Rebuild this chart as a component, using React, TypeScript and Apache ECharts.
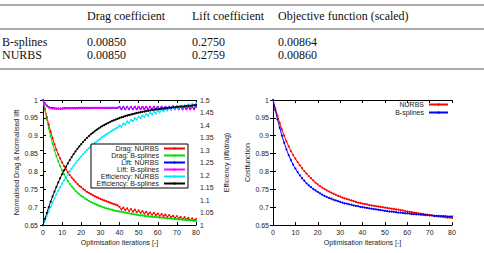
import React, { useEffect, useRef } from "react";
import * as echarts from "echarts";

// ---------- Table data ----------
const TABLE_HEADERS = ["", "Drag coefficient", "Lift coefficient", "Objective function (scaled)"];
const TABLE_ROWS = [
  ["B-splines", "0.00850", "0.2750", "0.00864"],
  ["NURBS", "0.00850", "0.2759", "0.00860"],
];

// ---------- Left chart data (iterations 0..80) ----------
const DRAG_NURBS = [
  1.000, 0.975, 0.952, 0.931, 0.911, 0.893, 0.876, 0.861, 0.848, 0.836,
  0.825, 0.815, 0.806, 0.798, 0.790, 0.783, 0.777, 0.771, 0.765, 0.760,
  0.756, 0.751, 0.747, 0.743, 0.740, 0.737, 0.734, 0.731, 0.728, 0.726,
  0.723, 0.721, 0.719, 0.717, 0.715, 0.713, 0.711, 0.709, 0.707, 0.705,
  0.701, 0.694, 0.699, 0.692, 0.697, 0.690, 0.695, 0.688, 0.693, 0.686,
  0.691, 0.684, 0.689, 0.682, 0.687, 0.681, 0.685, 0.679, 0.684, 0.678,
  0.682, 0.676, 0.681, 0.675, 0.679, 0.673, 0.678, 0.672, 0.676, 0.670,
  0.675, 0.669, 0.673, 0.667, 0.672, 0.666, 0.670, 0.664, 0.669, 0.663,
  0.667,
];
const DRAG_BSPLINES = [
  1.000, 0.972, 0.946, 0.921, 0.899, 0.878, 0.860, 0.843, 0.828, 0.815,
  0.803, 0.792, 0.782, 0.773, 0.765, 0.758, 0.752, 0.746, 0.741, 0.736,
  0.732, 0.728, 0.724, 0.721, 0.718, 0.715, 0.712, 0.710, 0.707, 0.705,
  0.703, 0.701, 0.699, 0.697, 0.696, 0.694, 0.693, 0.691, 0.690, 0.689,
  0.688, 0.687, 0.686, 0.685, 0.684, 0.683, 0.682, 0.681, 0.680, 0.679,
  0.678, 0.677, 0.677, 0.676, 0.675, 0.675, 0.674, 0.673, 0.673, 0.672,
  0.672, 0.671, 0.671, 0.670, 0.670, 0.669, 0.669, 0.668, 0.668, 0.667,
  0.667, 0.666, 0.666, 0.665, 0.665, 0.664, 0.664, 0.663, 0.663, 0.662,
  0.662,
];
const LIFT_NURBS = [
  1.000, 0.990, 0.984, 0.980, 0.978, 0.977, 0.977, 0.976, 0.976, 0.976,
  0.976, 0.977, 0.977, 0.977, 0.977, 0.977, 0.977, 0.977, 0.977, 0.978,
  0.978, 0.978, 0.978, 0.978, 0.978, 0.978, 0.978, 0.978, 0.978, 0.978,
  0.978, 0.978, 0.978, 0.978, 0.978, 0.978, 0.978, 0.978, 0.978, 0.978,
  0.981, 0.975, 0.981, 0.975, 0.981, 0.975, 0.981, 0.975, 0.981, 0.975,
  0.981, 0.975, 0.981, 0.975, 0.981, 0.975, 0.981, 0.975, 0.981, 0.975,
  0.981, 0.975, 0.981, 0.975, 0.981, 0.975, 0.981, 0.975, 0.982, 0.975,
  0.982, 0.976, 0.982, 0.976, 0.982, 0.976, 0.982, 0.976, 0.982, 0.976,
  0.982,
];
const LIFT_BSPLINES = [
  1.000, 0.989, 0.983, 0.979, 0.977, 0.976, 0.976, 0.976, 0.976, 0.976,
  0.976, 0.976, 0.977, 0.977, 0.977, 0.977, 0.977, 0.977, 0.977, 0.977,
  0.977, 0.977, 0.977, 0.977, 0.977, 0.978, 0.978, 0.978, 0.978, 0.978,
  0.978, 0.978, 0.978, 0.978, 0.978, 0.978, 0.978, 0.978, 0.978, 0.978,
  0.980, 0.974, 0.980, 0.974, 0.980, 0.974, 0.980, 0.974, 0.980, 0.974,
  0.980, 0.974, 0.980, 0.974, 0.980, 0.974, 0.980, 0.974, 0.980, 0.974,
  0.980, 0.974, 0.980, 0.974, 0.980, 0.974, 0.980, 0.974, 0.980, 0.974,
  0.980, 0.974, 0.980, 0.974, 0.980, 0.974, 0.980, 0.974, 0.980, 0.974,
  0.980,
];
const EFF_NURBS = [
  1.000, 1.019, 1.037, 1.055, 1.073, 1.090, 1.107, 1.123, 1.138, 1.152,
  1.166, 1.179, 1.192, 1.204, 1.215, 1.226, 1.237, 1.247, 1.257, 1.266,
  1.275, 1.284, 1.292, 1.300, 1.307, 1.314, 1.321, 1.328, 1.334, 1.340,
  1.346, 1.352, 1.357, 1.362, 1.367, 1.372, 1.377, 1.381, 1.386, 1.390,
  1.398, 1.394, 1.406, 1.402, 1.414, 1.409, 1.420, 1.416, 1.427, 1.422,
  1.433, 1.428, 1.438, 1.433, 1.444, 1.438, 1.448, 1.443, 1.453, 1.447,
  1.457, 1.451, 1.461, 1.455, 1.464, 1.458, 1.468, 1.461, 1.471, 1.464,
  1.474, 1.467, 1.477, 1.470, 1.479, 1.473, 1.482, 1.475, 1.484, 1.478,
  1.487,
];
const EFF_BSPLINES = [
  1.000, 1.025, 1.049, 1.072, 1.094, 1.115, 1.134, 1.153, 1.171, 1.188,
  1.204, 1.219, 1.233, 1.247, 1.260, 1.272, 1.284, 1.295, 1.305, 1.315,
  1.324, 1.333, 1.341, 1.349, 1.356, 1.363, 1.369, 1.375, 1.381, 1.386,
  1.391, 1.396, 1.400, 1.404, 1.408, 1.412, 1.416, 1.419, 1.422, 1.425,
  1.428, 1.431, 1.433, 1.436, 1.438, 1.440, 1.442, 1.444, 1.446, 1.448,
  1.450, 1.451, 1.453, 1.454, 1.456, 1.457, 1.458, 1.460, 1.461, 1.462,
  1.463, 1.464, 1.465, 1.466, 1.467, 1.468, 1.469, 1.470, 1.471, 1.471,
  1.472, 1.473, 1.474, 1.474, 1.475, 1.476, 1.477, 1.477, 1.478, 1.479,
  1.480,
];

// ---------- Right chart data ----------
const COST_NURBS = [
  1.000, 0.977, 0.956, 0.936, 0.917, 0.900, 0.884, 0.870, 0.857, 0.846,
  0.836, 0.826, 0.817, 0.809, 0.801, 0.794, 0.787, 0.781, 0.775, 0.769,
  0.764, 0.759, 0.755, 0.751, 0.747, 0.744, 0.741, 0.738, 0.735, 0.732,
  0.730, 0.727, 0.725, 0.723, 0.721, 0.719, 0.717, 0.715, 0.713, 0.712,
  0.710, 0.709, 0.708, 0.706, 0.705, 0.704, 0.703, 0.702, 0.701, 0.700,
  0.699, 0.698, 0.697, 0.696, 0.695, 0.694, 0.693, 0.692, 0.691, 0.689,
  0.688, 0.687, 0.686, 0.685, 0.684, 0.683, 0.682, 0.681, 0.680, 0.679,
  0.678, 0.677, 0.676, 0.675, 0.674, 0.674, 0.673, 0.672, 0.671, 0.671,
  0.670,
];
const COST_BSPLINES = [
  1.000, 0.972, 0.946, 0.922, 0.900, 0.880, 0.862, 0.846, 0.832, 0.819,
  0.808, 0.798, 0.789, 0.781, 0.774, 0.767, 0.761, 0.756, 0.751, 0.747,
  0.743, 0.739, 0.735, 0.732, 0.729, 0.726, 0.724, 0.721, 0.719, 0.717,
  0.715, 0.713, 0.711, 0.710, 0.708, 0.707, 0.705, 0.704, 0.703, 0.701,
  0.700, 0.699, 0.698, 0.697, 0.696, 0.695, 0.694, 0.693, 0.692, 0.691,
  0.690, 0.689, 0.688, 0.688, 0.687, 0.686, 0.685, 0.685, 0.684, 0.683,
  0.683, 0.682, 0.681, 0.681, 0.680, 0.680, 0.679, 0.679, 0.678, 0.678,
  0.677, 0.677, 0.676, 0.676, 0.676, 0.675, 0.675, 0.675, 0.674, 0.674,
  0.674,
];

const LEFT_Y_TICKS = { min: 0.65, max: 1, interval: 0.05 };
const RIGHT_Y_TICKS = { min: 1, max: 1.5, interval: 0.05 };
const X_TICKS = { min: 0, max: 80, interval: 10 };

const SANS = "Liberation Sans";
const SERIF = "Liberation Serif";
const TXT = "#222";

const toPairs = (arr: number[]) => arr.map((v, i) => [i, v]);

export default function App() {
  const ref = useRef<HTMLDivElement>(null);

  useEffect(() => {
    if (!ref.current) return;
    const chart = echarts.init(ref.current, undefined, { renderer: "svg" });

    const axisLine = { show: true, lineStyle: { color: "#000", width: 1 } };
    const tick = { show: true, inside: true, length: 3, lineStyle: { color: "#000" } };
    const label = { fontSize: 7, color: TXT, fontFamily: SANS };
    const nameStyle = { fontSize: 7, color: TXT, fontFamily: SANS };

    const xMain = (grid: number) => ({
      type: "value",
      gridIndex: grid,
      position: "bottom",
      ...X_TICKS,
      name: "Optimisation iterations [-]",
      nameLocation: "middle",
      nameGap: 14,
      nameTextStyle: nameStyle,
      axisLine,
      axisTick: tick,
      axisLabel: { ...label, margin: 4 },
      splitLine: { show: false },
    });
    const xMirror = (grid: number) => ({
      type: "value",
      gridIndex: grid,
      position: "top",
      ...X_TICKS,
      axisLine,
      axisTick: tick,
      axisLabel: { show: false },
      splitLine: { show: false },
    });

    // Table graphics
    const colX = [2, 87, 192, 278];
    const graphic: any[] = [];
    const rule = (y: number) => ({
      type: "line",
      shape: { x1: 0, y1: y, x2: 484, y2: y },
      style: { stroke: "#555", lineWidth: 1 },
    });
    graphic.push(rule(5), rule(29), rule(69));
    const cellStyle = (text: string) => ({
      text,
      fill: "#111",
      fontFamily: SERIF,
      fontSize: 12,
      verticalAlign: "middle",
    });
    TABLE_HEADERS.forEach((h, i) => {
      if (!h) return;
      graphic.push({ type: "text", x: colX[i], y: 16, style: cellStyle(h) });
    });
    TABLE_ROWS.forEach((row, r) => {
      row.forEach((cell, i) => {
        graphic.push({ type: "text", x: colX[i], y: 42 + r * 13, style: cellStyle(cell) });
      });
    });

    const lineSeries = (
      name: string,
      data: number[],
      color: string,
      xi: number,
      yi: number,
      symbol = "circle"
    ) => ({
      type: "line",
      name,
      data: toPairs(data),
      xAxisIndex: xi,
      yAxisIndex: yi,
      symbol,
      symbolSize: 2,
      showSymbol: true,
      lineStyle: { color, width: 1 },
      itemStyle: { color },
      emphasis: { disabled: true },
    });

    const legendText = (width: number) => ({
      fontSize: 7,
      lineHeight: 7,
      color: TXT,
      fontFamily: SANS,
      width,
      align: "right",
      padding: 0,
    });

    const option: any = {
      animation: false,
      textStyle: { fontFamily: SANS },
      graphic,
      grid: [
        { left: 43, top: 100, width: 153, height: 128, show: false },
        { left: 273, top: 100, width: 179, height: 128, show: false },
      ],
      xAxis: [xMain(0), xMirror(0), xMain(1), xMirror(1)],
      yAxis: [
        {
          type: "value",
          gridIndex: 0,
          position: "left",
          ...LEFT_Y_TICKS,
          name: "Normalised Drag & Normalised lift",
          nameLocation: "middle",
          nameGap: 22,
          nameTextStyle: nameStyle,
          axisLine,
          axisTick: tick,
          axisLabel: { ...label, margin: 5 },
          splitLine: { show: false },
        },
        {
          type: "value",
          gridIndex: 0,
          position: "right",
          ...RIGHT_Y_TICKS,
          name: "Efficiency (lift/drag)",
          nameLocation: "middle",
          nameGap: 27,
          nameTextStyle: nameStyle,
          axisLine,
          axisTick: tick,
          axisLabel: { ...label, margin: 4 },
          splitLine: { show: false },
        },
        {
          type: "value",
          gridIndex: 1,
          position: "left",
          ...LEFT_Y_TICKS,
          name: "Costfunction",
          nameLocation: "middle",
          nameGap: 21,
          nameTextStyle: nameStyle,
          axisLine,
          axisTick: tick,
          axisLabel: { ...label, margin: 4 },
          splitLine: { show: false },
        },
        {
          type: "value",
          gridIndex: 1,
          position: "right",
          ...LEFT_Y_TICKS,
          axisLine,
          axisTick: tick,
          axisLabel: { show: false },
          splitLine: { show: false },
        },
      ],
      legend: [
        {
          data: [
            "Drag: NURBS",
            "Drag: B-splines",
            "Lift: NURBS",
            "Lift: B-splines",
            "Efficiency: NURBS",
            "Efficiency: B-splines",
          ],
          orient: "vertical",
          left: 91,
          top: 144,
          align: "right",
          itemWidth: 21,
          itemHeight: 3,
          itemGap: 0,
          padding: [1, 2, 1, 2],
          backgroundColor: "#fff",
          borderColor: "#000",
          borderWidth: 1,
          borderRadius: 0,
          selectedMode: false,
          textStyle: legendText(66),
        },
        {
          data: ["NURBS", "B-splines"],
          orient: "vertical",
          left: 395,
          top: 101,
          align: "right",
          itemWidth: 19,
          itemHeight: 3,
          itemGap: 1,
          padding: 0,
          selectedMode: false,
          textStyle: legendText(29),
        },
      ],
      series: [
        lineSeries("Drag: NURBS", DRAG_NURBS, "#ff0000", 0, 0),
        lineSeries("Drag: B-splines", DRAG_BSPLINES, "#00dd00", 0, 0),
        lineSeries("Lift: NURBS", LIFT_NURBS, "#0000ff", 0, 0),
        lineSeries("Lift: B-splines", LIFT_BSPLINES, "#ff00ff", 0, 0),
        lineSeries("Efficiency: NURBS", EFF_NURBS, "#00e5ff", 0, 1),
        lineSeries("Efficiency: B-splines", EFF_BSPLINES, "#000000", 0, 1),
        lineSeries("NURBS", COST_NURBS, "#ff0000", 2, 2),
        lineSeries("B-splines", COST_BSPLINES, "#0000ff", 2, 2),
      ],
    };

    chart.setOption(option);
    return () => chart.dispose();
  }, []);

  return (
    <div
      ref={ref}
      style={{ position: "absolute", left: 0, top: 0, width: 484, height: 253, background: "#fff" }}
    />
  );
}
